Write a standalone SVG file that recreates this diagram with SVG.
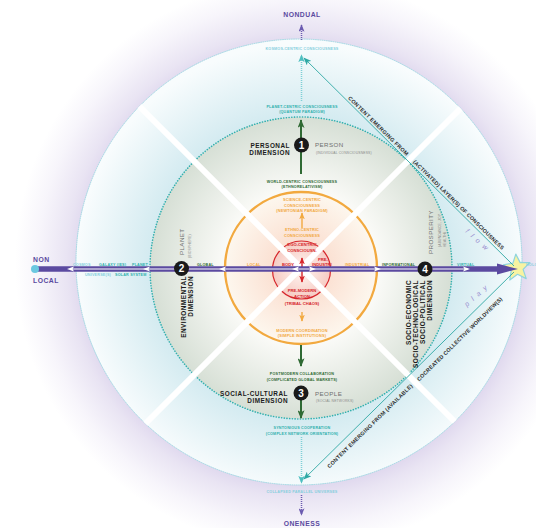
<svg xmlns="http://www.w3.org/2000/svg" width="536" height="528" viewBox="0 0 536 528">
  <defs>
    <style>
      text { font-family: 'Liberation Sans', Arial, sans-serif; }
      .mid { text-anchor: middle; }
      .end { text-anchor: end; }
      .tiny { font-size: 3.7px; font-weight: bold; letter-spacing: 0.2px; }
      .ctr { font-size: 3.9px; font-weight: bold; letter-spacing: 0.15px; }
      .core { font-size: 4.2px; font-weight: bold; }
      .dim { font-size: 6.4px; font-weight: bold; letter-spacing: 0.5px; fill: #1b1b1b; }
      .name { font-size: 6.2px; fill: #707070; letter-spacing: 0.4px; }
      .sub { font-size: 3.4px; fill: #8a8a8a; letter-spacing: 0.15px; }
      .pole { font-size: 6.8px; font-weight: bold; fill: #5a4a9f; letter-spacing: 0.5px; }
      .diag { font-size: 5.4px; font-weight: bold; fill: #2d2d2d; }
      .mood { font-size: 7px; font-style: italic; fill: #9a8fd0; letter-spacing: 5px; }
      .teal { fill: #2fb0ad; }
      .lteal { fill: #86cfdd; }
      .green { fill: #2f6a34; }
      .orange { fill: #f2a93f; }
      .red { fill: #d6252b; }
      .num { font-size: 10px; font-weight: bold; fill: #ffffff; text-anchor: middle; }
      .badge { fill: #1a1a1a; }
      .dots { fill: none; stroke-linecap: round; }
    </style>
    <radialGradient id="halo" gradientUnits="userSpaceOnUse" cx="300" cy="264" r="285">
      <stop offset="0.76" stop-color="#ddd5ed"/>
      <stop offset="0.82" stop-color="#e9e4f3"/>
      <stop offset="0.92" stop-color="#f7f5fb"/>
      <stop offset="1" stop-color="#ffffff"/>
    </radialGradient>
    <radialGradient id="outerFill" gradientUnits="userSpaceOnUse" cx="301" cy="268" r="224">
      <stop offset="0.66" stop-color="#d2eaf0"/>
      <stop offset="1" stop-color="#f8fcfd"/>
    </radialGradient>
    <radialGradient id="midFill" gradientUnits="userSpaceOnUse" cx="301" cy="268" r="151">
      <stop offset="0.5" stop-color="#fbfbf8"/>
      <stop offset="1" stop-color="#d6dfd5"/>
    </radialGradient>
    <radialGradient id="innerFill" gradientUnits="userSpaceOnUse" cx="301" cy="268" r="76">
      <stop offset="0.35" stop-color="#fbe0d2"/>
      <stop offset="1" stop-color="#fdf7ee"/>
    </radialGradient>
    <radialGradient id="coreFill" gradientUnits="userSpaceOnUse" cx="301.5" cy="270" r="29">
      <stop offset="0" stop-color="#fff6f2"/>
      <stop offset="1" stop-color="#f6cbc3"/>
    </radialGradient>
    <clipPath id="outerClip"><circle cx="299" cy="262" r="223"/></clipPath>
    <marker id="ahTeal" viewBox="0 0 10 8" refX="9" refY="4" markerWidth="8" markerHeight="6.4" orient="auto" markerUnits="userSpaceOnUse">
      <path d="M0,0 L10,4 L0,8 L2.5,4z" fill="#2fa8a4"/>
    </marker>
    <marker id="ahLTeal" viewBox="0 0 10 8" refX="9" refY="4" markerWidth="8" markerHeight="6.4" orient="auto" markerUnits="userSpaceOnUse">
      <path d="M0,0 L10,4 L0,8 L2.5,4z" fill="#4fbfc0"/>
    </marker>
    <marker id="ahPurple" viewBox="0 0 10 8" refX="9" refY="4" markerWidth="8" markerHeight="6" orient="auto" markerUnits="userSpaceOnUse">
      <path d="M0,0 L10,4 L0,8 L2.5,4z" fill="#6b5bb0"/>
    </marker>
    <marker id="ahGreen" viewBox="0 0 10 8" refX="9" refY="4" markerWidth="9" markerHeight="7" orient="auto" markerUnits="userSpaceOnUse">
      <path d="M0,0 L10,4 L0,8 L2.5,4z" fill="#2f6a34"/>
    </marker>
    <marker id="ahOrange" viewBox="0 0 10 8" refX="9" refY="4" markerWidth="7" markerHeight="5.6" orient="auto" markerUnits="userSpaceOnUse">
      <path d="M0,0 L10,4 L0,8 L2.5,4z" fill="#f2a93f"/>
    </marker>
    <marker id="ahRed" viewBox="0 0 10 8" refX="9" refY="4" markerWidth="7" markerHeight="5.6" orient="auto-start-reverse" markerUnits="userSpaceOnUse">
      <path d="M0,0 L10,4 L0,8 L2.5,4z" fill="#d6252b"/>
    </marker>
  </defs>

  <!-- background rings -->
  <g id="rings">
    <rect x="0" y="0" width="536" height="528" fill="#ffffff"/>
    <circle cx="300" cy="264" r="285" fill="url(#halo)"/>
    <circle cx="299" cy="262" r="223" fill="url(#outerFill)"/>
    <circle class="dots" cx="299" cy="262" r="223" stroke="#9fd9e3" stroke-width="1" stroke-dasharray="0.8 1.4"/>
    <circle cx="301" cy="268" r="151" fill="url(#midFill)"/>
    <circle class="dots" cx="301" cy="268" r="151" stroke="#34b0ae" stroke-width="1.6" stroke-dasharray="0.1 2.6"/>
    <circle cx="301" cy="268" r="76" fill="url(#innerFill)" stroke="#f2a93f" stroke-width="2.4"/>
    <circle cx="301.5" cy="270" r="29" fill="url(#coreFill)" stroke="#d6252b" stroke-width="1.2"/>
    <!-- white cross of quadrant dividers -->
    <g clip-path="url(#outerClip)" stroke="#ffffff" stroke-width="6">
      <line x1="130" y1="97" x2="472" y2="439"/>
      <line x1="472" y1="97" x2="130" y2="439"/>
    </g>
  </g>

  <!-- connectors -->
  <g id="connectors">
    <!-- vertical axis -->
    <line x1="301.5" y1="40" x2="301.5" y2="25" stroke="#6b5bb0" stroke-width="1.5" stroke-dasharray="1 1" marker-end="url(#ahPurple)"/>
    <line x1="301.5" y1="101" x2="301.5" y2="55" stroke="#7fd0d6" stroke-width="1.5" stroke-dasharray="1 1" marker-end="url(#ahLTeal)"/>
    <line x1="301" y1="174" x2="301" y2="120" stroke="#2f6a34" stroke-width="2" marker-end="url(#ahGreen)"/>
    <line x1="302" y1="228" x2="302" y2="213" stroke="#f2a93f" stroke-width="1.4" marker-end="url(#ahOrange)"/>
    <line x1="302" y1="258" x2="302" y2="282" stroke="#d6252b" stroke-width="1.4" marker-start="url(#ahRed)" marker-end="url(#ahRed)"/>
    <line x1="302" y1="312" x2="302" y2="321" stroke="#f2a93f" stroke-width="1.4" marker-end="url(#ahOrange)"/>
    <line x1="301" y1="345" x2="301" y2="366" stroke="#2f6a34" stroke-width="2" marker-end="url(#ahGreen)"/>
    <line x1="301" y1="386" x2="301" y2="418" stroke="#2f6a34" stroke-width="2" marker-end="url(#ahGreen)"/>
    <line x1="301.5" y1="437" x2="301.5" y2="483" stroke="#7fd0d6" stroke-width="1.5" stroke-dasharray="1 1" marker-end="url(#ahLTeal)"/>
    <line x1="301.5" y1="495" x2="301.5" y2="515" stroke="#6b5bb0" stroke-width="1.5" stroke-dasharray="1 1" marker-end="url(#ahPurple)"/>

    <!-- star target -->
    <polygon points="515.8,254.1 520.2,262.6 529.9,262.5 523.1,269.4 526.2,278.6 517.5,274.3 509.8,280 511.2,270.5 503.4,264.9 512.9,263.2" fill="#f7f3a1" stroke="#8fd4dd" stroke-width="1.2" stroke-linejoin="round"/>

    <!-- horizontal axis -->
    <line x1="35" y1="269" x2="500" y2="269" stroke="#5b4aa0" stroke-width="5.5"/>
    <line x1="70" y1="269" x2="468" y2="269" stroke="#ffffff" stroke-width="1.1"/>
    <g fill="#ffffff">
      <polygon points="67,269 74,266.6 72.5,269 74,271.4"/>
      <polygon points="143,269 150,266.6 148.5,269 150,271.4"/>
      <polygon points="219,269 226,266.6 224.5,269 226,271.4"/>
      <polygon points="292,269 299,266.6 297.5,269 299,271.4"/>
      <polygon points="316,269 309,266.6 310.5,269 309,271.4"/>
      <polygon points="381,269 374,266.6 375.5,269 374,271.4"/>
      <polygon points="470,269 463,266.6 464.5,269 463,271.4"/>
    </g>
    <polygon points="497,263.5 518,269 497,274.5" fill="#5b4aa0"/>
    <circle cx="35" cy="269" r="4" fill="#6cc8e0"/>

    <!-- diagonal content lines -->
    <line x1="514" y1="266" x2="304" y2="58" stroke="#2fa8a4" stroke-width="0.9" marker-end="url(#ahTeal)"/>
    <line x1="514" y1="272" x2="304" y2="479" stroke="#2fa8a4" stroke-width="0.9" marker-end="url(#ahTeal)"/>
  </g>

  <!-- poles -->
  <g id="pole-nondual"><text class="pole mid" x="302" y="16.7">NONDUAL</text></g>
  <g id="pole-oneness"><text class="pole mid" x="302" y="526">ONENESS</text></g>
  <g id="pole-nonlocal">
    <text class="pole" x="33" y="262">NON</text>
    <text class="pole" x="33" y="283">LOCAL</text>
  </g>
  <g id="pole-holo"><text class="tiny lteal" x="526" y="266">HOLO</text></g>

  <!-- vertical stage labels -->
  <g id="stage-kosmos"><text class="tiny mid lteal" x="302" y="49.5">KOSMOS-CENTRIC CONSCIOUSNESS</text></g>
  <g id="stage-planet">
    <text class="tiny mid teal" x="302" y="107.5">PLANET-CENTRIC CONSCIOUSNESS</text>
    <text class="tiny mid teal" x="302" y="113">(QUANTUM PARADIGM)</text>
  </g>
  <g id="stage-world">
    <text class="tiny mid green" x="302" y="182.5">WORLD-CENTRIC CONSCIOUSNESS</text>
    <text class="tiny mid green" x="302" y="188">(ETHNORELATIVISM)</text>
  </g>
  <g id="stage-science">
    <text class="ctr mid orange" x="302" y="201.2">SCIENCE-CENTRIC</text>
    <text class="ctr mid orange" x="302" y="206.7">CONSCIOUSNESS</text>
    <text class="ctr mid orange" x="302" y="212.2">(NEWTONIAN PARADIGM)</text>
  </g>
  <g id="stage-ethno">
    <text class="ctr mid orange" x="302" y="231">ETHNO-CENTRIC</text>
    <text class="ctr mid orange" x="302" y="236.5">CONSCIOUSNESS</text>
  </g>
  <g id="stage-ego">
    <text class="core mid red" x="302" y="246.2">EGO-CENTRIC</text>
    <text class="core mid red" x="302" y="252">CONSCIOUSN.</text>
  </g>
  <g id="stage-premodern">
    <text class="core mid red" x="302" y="292">PRE-MODERN</text>
    <text class="core mid red" x="302" y="297.6">ACTION</text>
    <text class="core mid red" x="302" y="304.5">(TRIBAL CHAOS)</text>
  </g>
  <g id="stage-modern">
    <text class="ctr mid orange" x="302" y="331.8">MODERN COORDINATION</text>
    <text class="ctr mid orange" x="302" y="337.4">(SIMPLE INSTITUTIONS)</text>
  </g>
  <g id="stage-postmodern">
    <text class="tiny mid green" x="302" y="375">POSTMODERN COLLABORATION</text>
    <text class="tiny mid green" x="302" y="380.6">(COMPLICATED GLOBAL MARKETS)</text>
  </g>
  <g id="stage-syntonious">
    <text class="tiny mid teal" x="302" y="429">SYNTONIOUS COOPERATION</text>
    <text class="tiny mid teal" x="302" y="434.6">(COMPLEX NETWORK ORIENTATION)</text>
  </g>
  <g id="stage-collapsed"><text class="tiny mid lteal" x="302" y="492.5">COLLAPSED PARALLEL UNIVERSES</text></g>

  <!-- horizontal scale labels -->
  <g id="scale-left">
    <text class="tiny lteal" x="73" y="265.5">COSMOS</text>
    <text class="tiny teal" x="99" y="265.5">GALAXY (IES)</text>
    <text class="tiny teal" x="132" y="265.5">PLANET</text>
    <text class="tiny lteal" x="85" y="276">UNIVERSE(S)</text>
    <text class="tiny teal" x="115" y="276">SOLAR SYSTEM</text>
    <text class="tiny green" x="197" y="265.5">GLOBAL</text>
    <text class="tiny orange" x="247" y="265.5">LOCAL</text>
  </g>
  <g id="scale-core">
    <text class="core red" x="282" y="266">BODY</text>
    <text class="core red" x="318" y="260.5">PRE-</text>
    <text class="core red" x="312" y="265.8">INDUSTRI</text>
  </g>
  <g id="scale-right">
    <text class="tiny orange" x="345" y="265.5">INDUSTRIAL</text>
    <text class="tiny green" x="382" y="265.5">INFORMATIONAL</text>
    <text class="tiny teal" x="457" y="265.5">VIRTUAL</text>
  </g>

  <!-- dimension 1: personal -->
  <g id="dim-personal">
    <circle class="badge" cx="301.5" cy="145" r="7.5"/>
    <text class="num" x="301.5" y="148.6">1</text>
    <text class="dim end" x="290" y="147.5">PERSONAL</text>
    <text class="dim end" x="290" y="154.5">DIMENSION</text>
    <text class="name" x="315" y="147">PERSON</text>
    <text class="sub" x="316" y="153.5">(INDIVIDUAL CONSCIOUSNESS)</text>
  </g>

  <!-- dimension 2: environmental -->
  <g id="dim-environmental">
    <circle class="badge" cx="181.5" cy="268.5" r="7.5"/>
    <text class="num" x="181.5" y="272.1">2</text>
    <text class="name" transform="translate(183.5,255) rotate(-90)">PLANET</text>
    <text class="sub" transform="translate(191,258) rotate(-90)">(BIOSPHERE)</text>
    <text class="dim end" transform="translate(185.5,276) rotate(-90)">ENVIRONMENTAL</text>
    <text class="dim end" transform="translate(192.5,276) rotate(-90)">DIMENSION</text>
  </g>

  <!-- dimension 3: social-cultural -->
  <g id="dim-social">
    <circle class="badge" cx="301" cy="393" r="7.5"/>
    <text class="num" x="301" y="396.6">3</text>
    <text class="dim end" x="288" y="395.5">SOCIAL-CULTURAL</text>
    <text class="dim end" x="288" y="403">DIMENSION</text>
    <text class="name" x="315" y="395.5">PEOPLE</text>
    <text class="sub" x="316" y="402">(SOCIAL NETWORKS)</text>
  </g>

  <!-- dimension 4: socio-economic -->
  <g id="dim-socio">
    <circle class="badge" cx="425" cy="269" r="7.5"/>
    <text class="num" x="425" y="272.6">4</text>
    <text class="name" transform="translate(433,254) rotate(-90)">PROSPERITY</text>
    <text class="sub" transform="translate(440.5,247) rotate(-90)">(ABUNDANCE, JOY,</text>
    <text class="sub" transform="translate(445.5,247) rotate(-90)">HEALTH)</text>
    <text class="dim end" transform="translate(410.5,280) rotate(-90)">SOCIO-ECONOMIC</text>
    <text class="dim end" transform="translate(417.5,280) rotate(-90)">SOCIO-TECHNOLOGICAL</text>
    <text class="dim end" transform="translate(424.5,280) rotate(-90)">SOCIO-POLITICAL</text>
    <text class="dim end" transform="translate(431.5,280) rotate(-90)">DIMENSION</text>
  </g>

  <!-- labels along the content lines -->
  <g id="label-activated">
    <text class="diag" transform="translate(347.8,98.4) rotate(44.6)" textLength="82" lengthAdjust="spacing">CONTENT EMERGING FROM</text>
    <text class="diag" transform="translate(412.7,162.3) rotate(44.6)" textLength="125" lengthAdjust="spacing">(ACTIVATED) LAYER(S) OF CONSCIOUSNESS</text>
    <text class="mood" transform="translate(465,232) rotate(42)">flow</text>
  </g>
  <g id="label-available">
    <text class="diag" transform="translate(329.5,468.4) rotate(-44.5)" textLength="117" lengthAdjust="spacing">CONTENT EMERGING FROM (AVAILABLE)</text>
    <text class="diag" transform="translate(419.2,381.4) rotate(-44.5)" textLength="117" lengthAdjust="spacing">COCREATED COLLECTIVE WORLDVIEW(S)</text>
    <text class="mood" transform="translate(467,307) rotate(-42)">play</text>
  </g>
</svg>
